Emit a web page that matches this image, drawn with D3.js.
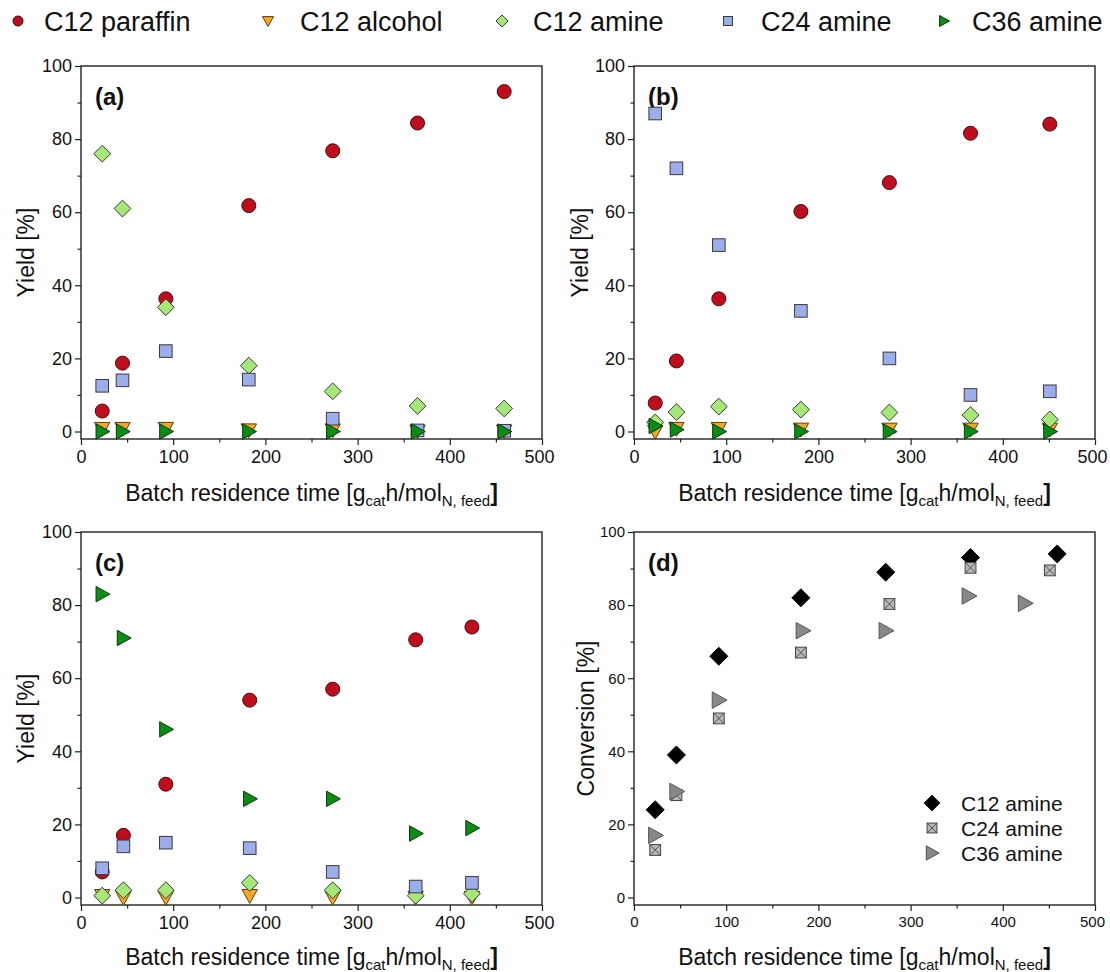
<!DOCTYPE html>
<html><head><meta charset="utf-8">
<script src="https://cdn.jsdelivr.net/npm/d3@7"></script>
<style>body{margin:0;background:#fff}svg{display:block;font-family:"Liberation Sans",Arial,sans-serif}</style>
</head><body><svg id="c" width="1110" height="972"></svg>
<script>
// ---------- data ----------
const seriesNames = ["C12 paraffin","C12 alcohol","C12 amine","C24 amine","C36 amine"];
const xTicks = [0,100,200,300,400,500];
const yTicks = [0,20,40,60,80,100];

const timeA = [23,45,92,182,273,365,459];
const paraffinA = [5.6,18.7,36.3,61.8,76.8,84.4,93.0];
const alcoholA  = [0.8,0.8,0.8,0.4,0.4,0.1,0.1];
const c12A      = [76.0,61.0,34.0,18.0,11.0,7.0,6.3];
const c24A      = [12.5,14.0,22.0,14.2,3.5,0.3,0.2];
const c36A      = [0,0,0,0,0,0,0];

const timeB = [23,46,92,181,277,365,451];
const paraffinB = [7.8,19.3,36.3,60.2,68.1,81.6,84.1];
const alcoholB  = [0.0,0.8,0.8,0.6,0.6,0.6,0.6];
const c12B      = [2.5,5.3,6.8,6.0,5.2,4.5,3.3];
const c24B      = [87.0,72.0,51.0,33.0,20.0,10.0,11.0];
const c36B      = [1.5,0.5,0,0,0,0,0];

const timeC = [23,46,92,183,273,363,424];
const paraffinC = [7.0,17.0,31.0,54.0,57.0,70.5,74.0];
const alcoholC  = [0.5,0,0,0.5,0,0,0];
const c12C      = [0.5,2.0,2.0,4.0,2.0,0.5,1.0];
const c24C      = [8.0,14.0,15.0,13.5,7.0,3.0,4.0];
const c36C      = [83.0,71.0,46.0,27.0,27.0,17.5,19.0];

const timeD12 = [23,46,92,181,273,365,459];
const convC12 = [24,39,66,82,89,93,94];
const timeD24 = [23,46,92,181,277,365,451];
const convC24 = [13,28,49,67,80.3,90.2,89.5];
const timeD36 = [23,46,92,183,273,363,424];
const convC36 = [17,29,54,73,73,82.5,80.5];
const convNames = ["C12 amine","C24 amine","C36 amine"];

// ---------- styles ----------
const styles = [
  {shape:"circle", fill:"#c00d1e", stroke:"#4a0a0a"},
  {shape:"tdown",  fill:"#f5a623", stroke:"#5a4010"},
  {shape:"diamond",fill:"#a6e878", stroke:"#3a3a3a"},
  {shape:"square", fill:"#9badea", stroke:"#3a3a3a"},
  {shape:"tright", fill:"#0b8c14", stroke:"#0a3a0a"}
];
const convStyles = [
  {shape:"diamond", fill:"#000", stroke:"#000"},
  {shape:"xsquare", fill:"#b8b8b8", stroke:"#444"},
  {shape:"tright",  fill:"#888", stroke:"#555"}
];

function marker(g, shape, x, y, s, fill, stroke){
  let el;
  if(shape==="circle"){
    el = g.append("circle").attr("cx",x).attr("cy",y).attr("r",s*0.5);
  } else if(shape==="square" || shape==="xsquare"){
    const h=s*0.45;
    el = g.append("rect").attr("x",x-h).attr("y",y-h).attr("width",2*h).attr("height",2*h);
    if(shape==="xsquare"){
      el.attr("fill",fill).attr("stroke",stroke).attr("stroke-width",1);
      g.append("path").attr("d",`M${x-h},${y-h}L${x+h},${y+h}M${x+h},${y-h}L${x-h},${y+h}`)
        .attr("stroke",stroke).attr("stroke-width",0.9).attr("fill","none");
      return;
    }
  } else if(shape==="diamond"){
    const h=s*0.6;
    el = g.append("path").attr("d",`M${x},${y-h}L${x+h},${y}L${x},${y+h}L${x-h},${y}Z`);
  } else if(shape==="tdown"){
    const h=s*0.55;
    el = g.append("path").attr("d",`M${x-h},${y-h*0.8}L${x+h},${y-h*0.8}L${x},${y+h}Z`);
  } else if(shape==="tright"){
    const h=s*0.55;
    el = g.append("path").attr("d",`M${x-h*0.8},${y-h}L${x+h},${y}L${x-h*0.8},${y+h}Z`);
  }
  el.attr("fill",fill).attr("stroke",stroke).attr("stroke-width",1);
}

const svg = d3.select("#c");

// ---------- top legend ----------
const legX = [18,268,502,728,944];
const legT = [44,300,533,761,972];
seriesNames.forEach((n,i)=>{
  const st=styles[i];
  marker(svg, st.shape, legX[i], 21, 10, st.fill, st.stroke);
  svg.append("text").attr("x",legT[i]).attr("y",31).attr("font-size",27).attr("fill","#111").text(n);
});

// ---------- panels ----------
function panel(box, label, yTitle, fs, ptsFn){
  const x = d3.scaleLinear().domain([0,500]).range([box.l, box.r]);
  const y = d3.scaleLinear().domain([0,100]).range([box.y0, box.y100]);
  const g = svg.append("g");
  g.append("rect").attr("x",box.l).attr("y",box.y100).attr("width",box.r-box.l).attr("height",box.b-box.y100)
    .attr("fill","none").attr("stroke","#222").attr("stroke-width",1.4);
  const xa = g.append("g").attr("transform",`translate(0,${box.b})`)
    .call(d3.axisBottom(x).tickValues(xTicks).tickSize(6).tickPadding(5).tickFormat(d3.format("d")));
  const xm = g.append("g").attr("transform",`translate(0,${box.b})`)
    .call(d3.axisBottom(x).tickValues(d3.range(50,500,100)).tickSize(3.5).tickFormat(""));
  const ya = g.append("g").attr("transform",`translate(${box.l},0)`)
    .call(d3.axisLeft(y).tickValues(yTicks).tickSize(6).tickPadding(3).tickFormat(d3.format("d")));
  const ym = g.append("g").attr("transform",`translate(${box.l},0)`)
    .call(d3.axisLeft(y).tickValues(d3.range(10,100,20)).tickSize(3.5).tickFormat(""));
  [xa,xm,ya,ym].forEach(a=>{
    a.select(".domain").remove();
    a.selectAll("line").attr("stroke","#222").attr("stroke-width",1.2);
    a.selectAll("text").attr("font-size",fs).attr("fill","#111").attr("font-family","Liberation Sans, Arial, sans-serif");
  });
  // keep the last x label inside the page
  xa.selectAll("text").filter(d=>d===500).attr("dx",-3);
  g.append("text").attr("transform",`translate(${box.yt},${(box.y100+box.b)/2}) rotate(-90)`)
    .attr("text-anchor","middle").attr("font-size",23).attr("fill","#111").text(yTitle);
  const xt = g.append("text").attr("x",(box.l+box.r)/2).attr("y",box.b+box.xt)
    .attr("text-anchor","middle").attr("font-size",23).attr("fill","#111");
  xt.append("tspan").text("Batch residence time [g");
  xt.append("tspan").attr("font-size",15).attr("dy",5).text("cat");
  xt.append("tspan").attr("dy",-5).text("h/mol");
  xt.append("tspan").attr("font-size",15).attr("dy",5).text("N, feed");
  xt.append("tspan").attr("dy",-5).attr("font-weight","bold").text("]");
  g.append("text").attr("x",box.l+14).attr("y",box.y100+39).attr("font-size",24).attr("fill","#111")
    .attr("font-weight","bold").text("("+label+")");
  ptsFn(g,x,y);
}

const TOP = {y100:66, y0:431.5, b:439};
const BOT = {y100:532, y0:897.5, b:905};
const L = {l:81, r:542};
const R = {l:634, r:1095};

function yieldPts(t, arrs){
  return (g,x,y)=>{
    arrs.forEach((a,i)=>{
      const st=styles[i];
      a.forEach((v,j)=> marker(g, st.shape, x(t[j]), y(v), 14, st.fill, st.stroke));
    });
  };
}

panel({...L,...TOP, yt:34, xt:62}, "a", "Yield [%]", 18, yieldPts(timeA,[paraffinA,alcoholA,c12A,c24A,c36A]));
panel({...R,...TOP, yt:588, xt:62}, "b", "Yield [%]", 18, yieldPts(timeB,[paraffinB,alcoholB,c12B,c24B,c36B]));
panel({...L,...BOT, yt:34, xt:60}, "c", "Yield [%]", 18, yieldPts(timeC,[paraffinC,alcoholC,c12C,c24C,c36C]));
panel({...R,...BOT, yt:594, xt:60}, "d", "Conversion [%]", 15, (g,x,y)=>{
  const sets=[[timeD12,convC12,15],[timeD24,convC24,12],[timeD36,convC36,15]];
  sets.forEach((s,i)=>{
    const st=convStyles[i];
    s[1].forEach((v,j)=> marker(g, st.shape, x(s[0][j]), y(v), s[2], st.fill, st.stroke));
  });
  const ly=[803,828,853];
  convNames.forEach((n,i)=>{
    const st=convStyles[i];
    marker(g, st.shape, 932, ly[i], i===0?13:i===1?11:13, st.fill, st.stroke);
    g.append("text").attr("x",961).attr("y",ly[i]+7.5).attr("font-size",21).attr("fill","#111").text(n);
  });
});
</script></body></html>
